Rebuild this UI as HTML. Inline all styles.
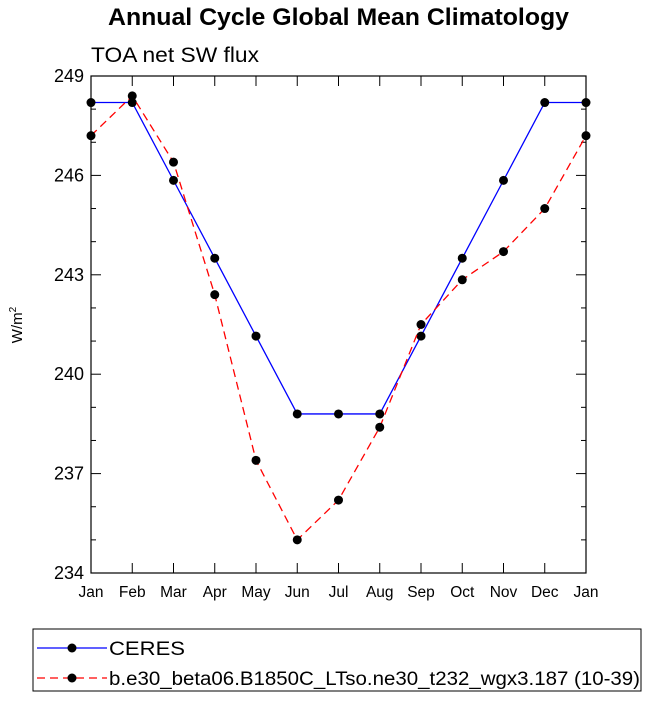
<!DOCTYPE html>
<html><head><meta charset="utf-8"><style>
body{margin:0;background:#fff;}
svg text{font-family:"Liberation Sans",Helvetica,Arial,sans-serif;}
</style></head><body>
<svg id="chart" width="649" height="701" xmlns="http://www.w3.org/2000/svg">
<text x="108" y="25" font-size="24" font-weight="bold" textLength="461" lengthAdjust="spacingAndGlyphs">Annual Cycle Global Mean Climatology</text>
<text x="91" y="62" font-size="21" textLength="168" lengthAdjust="spacingAndGlyphs">TOA net SW flux</text>
<text transform="translate(22,325) rotate(-90)" text-anchor="middle" font-size="15">W/m<tspan font-size="10" dy="-6">2</tspan></text>
<g id="axes"></g>
<g id="series"></g>
<g>
<rect x="33" y="629" width="608" height="62" fill="none" stroke="#000" stroke-width="1"/>
<line x1="37" y1="648" x2="107" y2="648" stroke="#0000ff" stroke-width="1.3"/>
<circle cx="72" cy="648" r="4.5" fill="#000"/>
<text x="109" y="655" font-size="19" textLength="76" lengthAdjust="spacingAndGlyphs">CERES</text>
<line x1="37" y1="678" x2="107" y2="678" stroke="#ff0000" stroke-width="1.3" stroke-dasharray="8,5"/>
<circle cx="72" cy="678" r="4.5" fill="#000"/>
<text x="109" y="685" font-size="19" textLength="531" lengthAdjust="spacingAndGlyphs">b.e30_beta06.B1850C_LTso.ne30_t232_wgx3.187 (10-39)</text>
</g>
</svg>
<script>
const months=["Jan","Feb","Mar","Apr","May","Jun","Jul","Aug","Sep","Oct","Nov","Dec","Jan"];
const ceres=[248.2,248.2,245.85,243.5,241.15,238.8,238.8,238.8,241.15,243.5,245.85,248.2,248.2];
const model=[247.2,248.4,246.4,242.4,237.4,235.0,236.2,238.4,241.5,242.85,243.7,245.0,247.2];
const yTicks=[234,237,240,243,246,249];
const NS="http://www.w3.org/2000/svg";
const L=91,R=586,T=76,B=573,ymin=234,ymax=249;
const x=i=>L+(R-L)*i/(months.length-1);
const y=v=>B-(B-T)*(v-ymin)/(ymax-ymin);
function mk(tag,attrs,parent){const e=document.createElementNS(NS,tag);for(const k in attrs)e.setAttribute(k,attrs[k]);parent.appendChild(e);return e;}
const ax=document.getElementById('axes');
const frame=mk('rect',{x:L,y:T,width:R-L,height:B-T,fill:'none',stroke:'#000','stroke-width':1.2},ax);


for(let v=ymin;v<=ymax;v++){
  const major=yTicks.includes(v);const len=major?10:5;
  mk('line',{x1:L,y1:y(v),x2:L+len,y2:y(v),stroke:'#000'},ax);
  mk('line',{x1:R,y1:y(v),x2:R-len,y2:y(v),stroke:'#000'},ax);
}
yTicks.forEach(v=>{
  const t=mk('text',{x:L-7,y:y(v)+6,'text-anchor':'end','font-size':18},ax);
  t.textContent=v;
  
  
});
months.forEach((m,i)=>{
  mk('line',{x1:x(i),y1:B,x2:x(i),y2:B-10,stroke:'#000'},ax);
  mk('line',{x1:x(i),y1:T,x2:x(i),y2:T+10,stroke:'#000'},ax);
  const t=mk('text',{x:x(i),y:B+24,'text-anchor':'middle','font-size':15.5},ax);
  t.textContent=m;
  
  
});
const sg=document.getElementById('series');
function draw(vals,color,dash,name){
  const p=mk('polyline',{points:vals.map((v,i)=>x(i)+','+y(v)).join(' '),fill:'none',stroke:color,'stroke-width':1.3,'stroke-dasharray':dash},sg);
  
  
  vals.forEach((v,i)=>{
    const c=mk('circle',{cx:x(i),cy:y(v),r:4.5,fill:'#000'},sg);
    
    
  });
}
draw(ceres,'#0000ff','none','ceres');
draw(model,'#ff0000','8,5','model');
</script>
</body></html>
